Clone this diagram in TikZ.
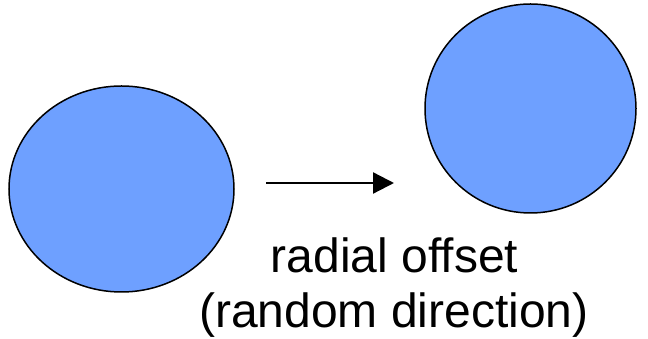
\documentclass[tikz,border=0pt]{standalone}
\usepackage{fontspec}
\setmainfont{Liberation Sans}
\usetikzlibrary{arrows.meta}
\definecolor{blobfill}{RGB}{110,160,255}
\tikzset{
  blob/.style={draw=black, line width=1.5pt, fill=blobfill},
  lbl/.style={font=\fontsize{48}{55}\selectfont, inner sep=0pt, anchor=base},
  move/.style={line width=2.3pt, -{Triangle[length=21pt,width=21pt]}}
}
\begin{document}
\begin{tikzpicture}[x=1pt,y=1pt]
\useasboundingbox (0,0) rectangle (648,339);
\draw[blob] (121.5,150) ellipse [x radius=112.5, y radius=103];
\draw[blob] (530.5,230.5) ellipse [x radius=105.5, y radius=104.5];
\coordinate (a) at (266,156);
\coordinate (b) at (394,156);
\draw[move] (a) -- (b);
\node[lbl] (l1) at (394.5,66) {radial offset};
\node[lbl] (l2) at (394,11) {(random direction)};
\end{tikzpicture}
\end{document}
